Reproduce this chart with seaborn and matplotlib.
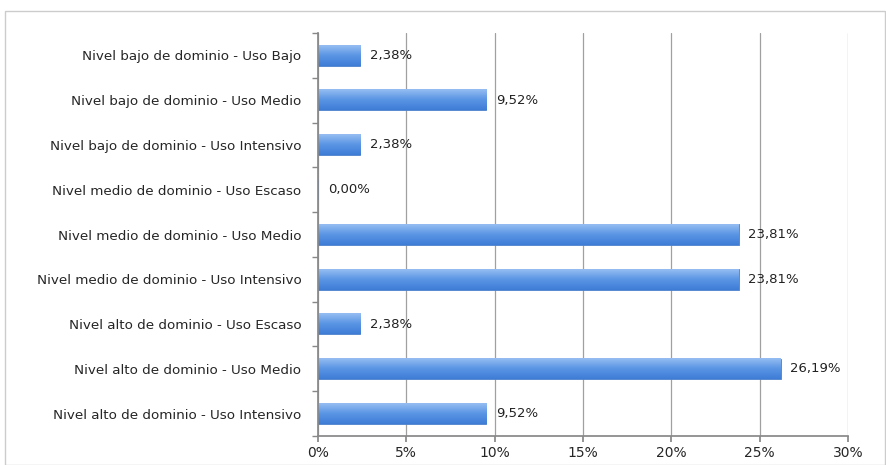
import numpy as np
import pandas as pd
import matplotlib
matplotlib.use('Agg')
import matplotlib.pyplot as plt
import seaborn as sns
from matplotlib.patches import Rectangle

# data
categorias = [
    'Nivel bajo de dominio - Uso Bajo',
    'Nivel bajo de dominio - Uso Medio',
    'Nivel bajo de dominio - Uso Intensivo',
    'Nivel medio de dominio - Uso Escaso',
    'Nivel medio de dominio - Uso Medio',
    'Nivel medio de dominio - Uso Intensivo',
    'Nivel alto de dominio - Uso Escaso',
    'Nivel alto de dominio - Uso Medio',
    'Nivel alto de dominio - Uso Intensivo',
]
porcentajes = [2.38, 9.52, 2.38, 0.00, 23.81, 23.81, 2.38, 26.19, 9.52]
x_ticks = [0, 5, 10, 15, 20, 25, 30]

df = pd.DataFrame({'categoria': categorias, 'valor': porcentajes})

sns.set_theme(style='white')
plt.rcParams['font.family'] = ['DejaVu Sans']

fig = plt.figure(figsize=(8.87, 4.65), dpi=100)
ax = fig.add_axes([318 / 887, 1 - 436 / 465, (848 - 318) / 887, (436 - 33) / 465])

sns.barplot(data=df, y='categoria', x='valor', orient='h', ax=ax,
            color='#5591E2', width=0.46, edgecolor='#4A80CC', linewidth=0.6)

# vertical gradient on each bar, like the spreadsheet style
cmap_barra = matplotlib.colors.LinearSegmentedColormap.from_list(
    'g', ['#95BDF2', '#5A95E4', '#3F7CD6'])
for bar in ax.patches:
    x0, y0 = bar.get_x(), bar.get_y()
    w, h = bar.get_width(), bar.get_height()
    if w <= 0:
        continue
    grad = np.linspace(0, 1, 50).reshape(-1, 1)
    ax.imshow(grad, extent=(x0, x0 + w, y0 + h, y0), aspect='auto',
              cmap=cmap_barra, zorder=bar.get_zorder() + 0.1)

for i, v in enumerate(porcentajes):
    ax.text(v + 0.55, i, f'{v:.2f}%'.replace('.', ','), va='center',
            ha='left', fontsize=9.5, color='#222222')

ax.set_xlim(0, 30)
ax.set_ylim(len(categorias) - 0.5, -0.5)
ax.set_xticks(x_ticks)
ax.set_xticklabels([f'{t}%' for t in x_ticks], fontsize=10)
ax.set_yticks(range(len(categorias)))
ax.set_yticklabels(categorias, fontsize=9.7)
ax.set_xlabel('')
ax.set_ylabel('')

ax.xaxis.grid(True, color='#a0a0a0', linewidth=0.9)
ax.set_axisbelow(True)
ax.tick_params(axis='y', length=0, pad=12)
ax.tick_params(axis='x', length=4, color='#888888', bottom=True, pad=3)
ax.set_yticks(np.arange(-0.5, len(categorias), 1), minor=True)
ax.tick_params(axis='y', which='minor', length=4, color='#888888', left=True)

for s in ['top', 'right']:
    ax.spines[s].set_visible(False)
ax.spines['left'].set_color('#888888')
ax.spines['bottom'].set_color('#888888')

# light outer frame of the chart
fig.patches.append(Rectangle((5 / 887, 0), 880 / 887, 1 - 11 / 465,
                             transform=fig.transFigure, fill=False,
                             edgecolor='#cccccc', linewidth=1))

plt.savefig('out.png', dpi=100)
